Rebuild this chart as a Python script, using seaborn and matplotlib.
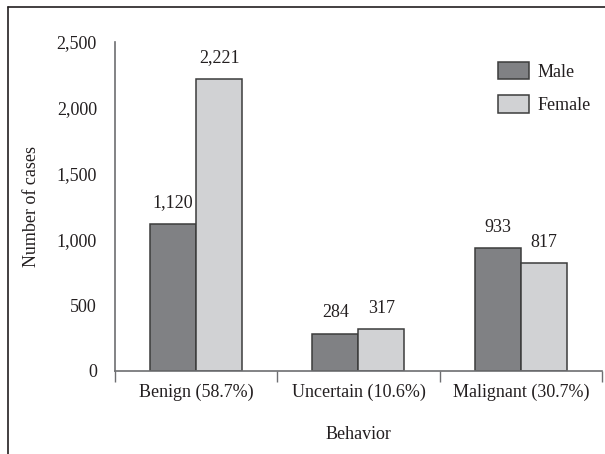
import numpy as np
import matplotlib
matplotlib.use('Agg')
import matplotlib.pyplot as plt
import pandas as pd
import seaborn as sns
from matplotlib.lines import Line2D

# data
behavior = ['Benign (58.7%)', 'Uncertain (10.6%)', 'Malignant (30.7%)']
male = [1120, 284, 933]
female = [2221, 317, 817]
sexes = ['Male', 'Female']

df = pd.DataFrame({
    'Behavior': behavior * 2,
    'Sex': ['Male'] * 3 + ['Female'] * 3,
    'Cases': male + female,
})

sns.set_style('white')
plt.rcParams['font.family'] = ['Liberation Serif', 'DejaVu Serif']
fs = 13

fig = plt.figure(figsize=(6.05, 4.54), dpi=100)
ax = fig.add_axes([0.190, 0.183, 0.805, 0.7245])

sns.barplot(data=df, x='Behavior', y='Cases', hue='Sex', hue_order=sexes,
            palette=['#808184', '#d1d2d4'], width=0.567, ax=ax,
            edgecolor='#3c3c3c', linewidth=1.1, saturation=1)

for cont in ax.containers:
    ax.bar_label(cont, labels=[f'{v:,.0f}' for v in cont.datavalues],
                 padding=9, fontsize=fs, color='#231f20')

ax.set_xlim(-0.5, 2.5)
ax.set_ylim(0, 2500)
ax.set_yticks([0, 500, 1000, 1500, 2000, 2500])
ax.set_yticklabels([f'{v:,}' for v in [0, 500, 1000, 1500, 2000, 2500]])

ax.set_xticks([-0.5, 0.5, 1.5, 2.5], minor=True)
ax.tick_params(axis='x', which='major', length=0, pad=9, labelsize=fs, labelcolor='#231f20')
ax.tick_params(axis='x', which='minor', length=8, width=1, color='#6d6e71', direction='out')
ax.tick_params(axis='y', length=7, width=1, color='#6d6e71', direction='out', pad=6,
               labelsize=fs, labelcolor='#231f20')
ax.xaxis.set_tick_params(bottom=True, which='minor')

for s in ['top', 'right']:
    ax.spines[s].set_visible(False)
for s in ['left', 'bottom']:
    ax.spines[s].set_color('#6d6e71')
    ax.spines[s].set_linewidth(1.2)

ax.set_xlabel('Behavior', fontsize=fs, color='#231f20', labelpad=18)
ax.set_ylabel('Number of cases', fontsize=fs, color='#231f20', labelpad=12)

leg = ax.legend(loc='upper left', bbox_to_anchor=(0.768, 0.968), frameon=False,
                borderpad=0, handlelength=1.7, handleheight=1.15, handletextpad=0.5,
                labelspacing=0.8, fontsize=fs)
for t in leg.get_texts():
    t.set_color('#231f20')

# outer frame lines (top and left)
fig.add_artist(Line2D([8 / 605, 1], [1 - 7 / 454, 1 - 7 / 454], color='#231f20', lw=1.2))
fig.add_artist(Line2D([8 / 605, 8 / 605], [0, 1 - 7 / 454], color='#231f20', lw=1.2))

fig.savefig('out.png', dpi=100)
